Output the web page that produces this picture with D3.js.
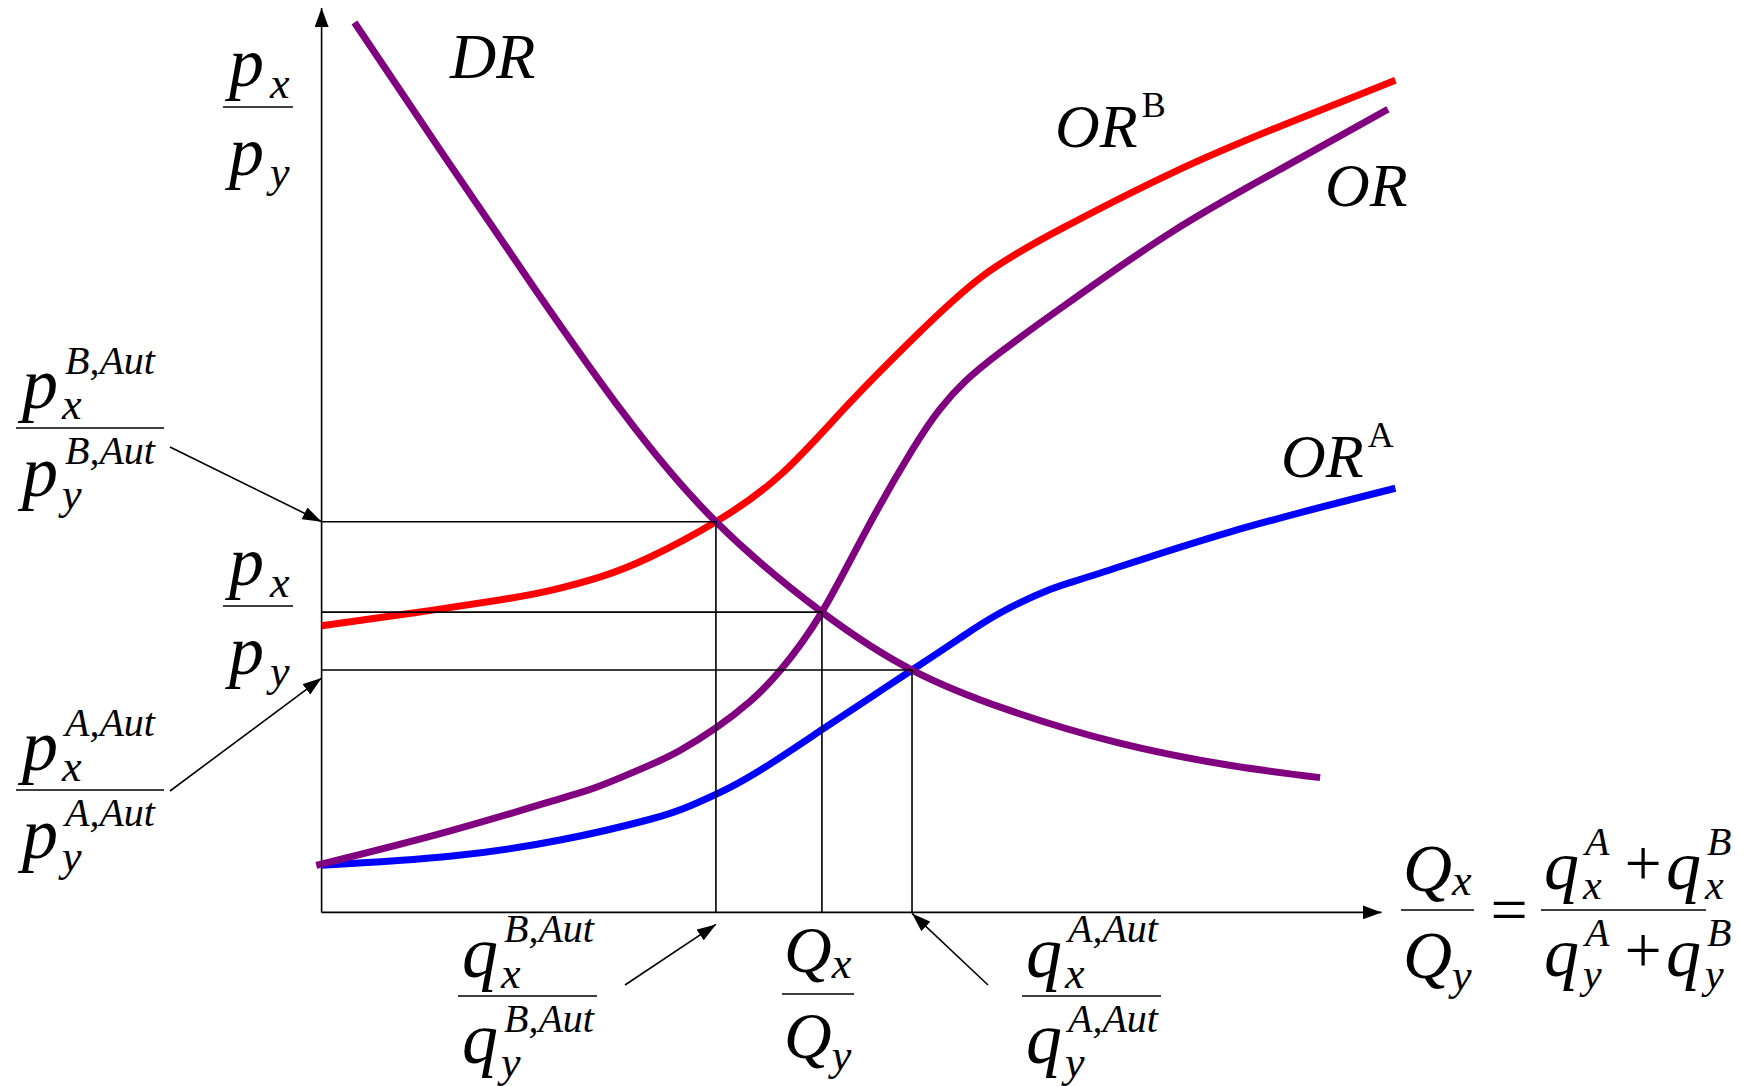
<!DOCTYPE html>
<html>
<head>
<meta charset="utf-8">
<script src="https://cdn.jsdelivr.net/npm/d3@7"></script>
<style>
  html, body { margin: 0; padding: 0; background: #ffffff; }
  svg { display: block; }
  text { font-family: "Liberation Serif", "Times New Roman", serif; fill: #000; }
</style>
</head>
<body>
<svg id="chart" width="1751" height="1086"></svg>
<script>
// ---- Data (abstract units: relative quantity Qx/Qy on x, relative price px/py on y) ----
// World relative demand DR
const drCurve = [
  [0.31, 9.84], [1.17, 8.34], [2.02, 6.88], [2.86, 5.50], [3.72, 4.32],
  [4.72, 3.32], [5.57, 2.68], [6.45, 2.25], [7.50, 1.88], [8.55, 1.63], [9.42, 1.49]
];
// Relative supply of country B (ORB)
const orBCurve = [
  [0.00, 3.17], [0.86, 3.31], [1.71, 3.46], [2.16, 3.56], [2.63, 3.71], [3.10, 3.93],
  [3.72, 4.32], [4.34, 4.85], [4.97, 5.62], [5.61, 6.38], [6.24, 7.04], [6.98, 7.56],
  [8.03, 8.18], [9.08, 8.71], [10.13, 9.20]
];
// World relative supply (OR)
const orCurve = [
  [-0.05, 0.52], [1.18, 0.89], [2.23, 1.25], [2.63, 1.40], [3.08, 1.62], [3.38, 1.79],
  [3.72, 2.04], [4.04, 2.33], [4.33, 2.68], [4.72, 3.32], [5.14, 4.23], [5.57, 5.11],
  [5.83, 5.56], [6.07, 5.87], [6.40, 6.19], [6.78, 6.52], [7.08, 6.77], [8.03, 7.53],
  [9.08, 8.24], [10.06, 8.88]
];
// Relative supply of country A (ORA)
const orACurve = [
  [0.00, 0.52], [1.21, 0.62], [2.25, 0.80], [3.10, 1.03], [3.48, 1.18], [3.85, 1.38],
  [4.23, 1.64], [4.72, 2.02], [5.17, 2.37], [5.57, 2.68], [6.02, 3.03], [6.40, 3.31],
  [6.87, 3.57], [7.34, 3.75], [8.55, 4.20], [10.13, 4.69]
];
// Equilibria: autarky in B, free-trade world, autarky in A  [Qx/Qy, px/py]
const autarkyB = [3.72, 4.32];
const worldEq  = [4.72, 3.32];
const autarkyA = [5.57, 2.68];
const axisMax = 10;

// ---- Setup ----
const svg = d3.select("#chart");
const x = d3.scaleLinear().domain([0, axisMax]).range([321.6, 1381.6]);
const y = d3.scaleLinear().domain([0, axisMax]).range([912.4, 8]);

const defs = svg.append("defs");
function arrowMarker(id, len, wid) {
  defs.append("marker")
    .attr("id", id)
    .attr("viewBox", `0 0 ${len} ${wid}`)
    .attr("refX", len).attr("refY", wid / 2)
    .attr("markerWidth", len).attr("markerHeight", wid)
    .attr("markerUnits", "userSpaceOnUse")
    .attr("orient", "auto")
    .append("path")
    .attr("d", `M0,0L${len},${wid / 2}L0,${wid}Z`)
    .attr("fill", "#000");
}
arrowMarker("axisArrow", 19, 14);
arrowMarker("noteArrow", 19, 13);

// ---- Axes ----
const axes = svg.append("g").attr("stroke", "#000").attr("stroke-width", 1.6);
axes.append("line")
  .attr("x1", x(0)).attr("y1", y(0)).attr("x2", x(0)).attr("y2", y(axisMax))
  .attr("marker-end", "url(#axisArrow)");
axes.append("line")
  .attr("x1", x(0)).attr("y1", y(0)).attr("x2", x(axisMax)).attr("y2", y(0))
  .attr("marker-end", "url(#axisArrow)");

// ---- Curves (natural cubic splines through the read points) ----
const line = d3.line().x(d => x(d[0])).y(d => y(d[1])).curve(d3.curveNatural);
const curves = [
  { data: orACurve, color: "#0000ff" },
  { data: orBCurve, color: "#ff0000" },
  { data: orCurve,  color: "#800080" },
  { data: drCurve,  color: "#800080" }
];
svg.append("g").selectAll("path").data(curves).join("path")
  .attr("d", d => line(d.data))
  .attr("fill", "none")
  .attr("stroke", d => d.color)
  .attr("stroke-width", 7)
  .attr("stroke-linecap", "butt");

// ---- Equilibrium guide lines ----
const guides = svg.append("g").attr("stroke", "#000").attr("stroke-width", 1.6).attr("fill", "none");
[autarkyB, worldEq, autarkyA].forEach(p => {
  guides.append("path")
    .attr("d", `M${x(0)},${y(p[1])}H${x(p[0])}V${y(0)}`);
});

// ---- Annotation arrows ----
const notes = svg.append("g").attr("stroke", "#000").attr("stroke-width", 1.6);
function note(x1, y1, px, py, dx, dy) {
  notes.append("line")
    .attr("x1", x1).attr("y1", y1)
    .attr("x2", x(px) + dx).attr("y2", y(py) + dy)
    .attr("marker-end", "url(#noteArrow)");
}
note(170, 447, 0, autarkyB[1], 0, 0);
note(170, 791, 0, autarkyA[1], 0, 8);
note(625, 985, autarkyB[0], 0, 0, 12);
note(988, 985, autarkyA[0], 0, 0, 1);

// ---- Math labels ----
const labels = svg.append("g");
function term(g, o) {
  const t = g.append("text")
    .attr("x", o.x).attr("y", o.y)
    .attr("font-size", o.size)
    .attr("font-style", "italic")
    .text(o.base);
  const w = t.node().getComputedTextLength();
  if (o.sup) {
    g.append("text")
      .attr("x", o.x + w + (o.supDx || 0)).attr("y", o.y - o.supRise)
      .attr("font-size", o.supSize)
      .attr("font-style", o.supUpright ? "normal" : "italic")
      .text(o.sup);
  }
  if (o.sub) {
    g.append("text")
      .attr("x", o.x + w + (o.subDx || 0)).attr("y", o.y + o.subDrop)
      .attr("font-size", o.subSize)
      .attr("font-style", "italic")
      .text(o.sub);
  }
  return w;
}
function bar(g, x1, x2, yb) {
  g.append("line").attr("x1", x1).attr("x2", x2).attr("y1", yb).attr("y2", yb)
    .attr("stroke", "#000").attr("stroke-width", 1.6);
}

// Curve names
term(labels, { x: 450, y: 78, base: "DR", size: 64 });
term(labels, { x: 1055, y: 147, base: "OR", size: 62, sup: "B", supSize: 36, supRise: 30, supDx: 4, supUpright: true });
term(labels, { x: 1325, y: 206, base: "OR", size: 62 });
term(labels, { x: 1281, y: 477, base: "OR", size: 62, sup: "A", supSize: 36, supRise: 30, supDx: 4, supUpright: true });

// Price ratio px/py (axis title and free-trade price)
function priceRatio(barY) {
  const g = labels.append("g");
  bar(g, 223, 293, barY);
  term(g, { x: 229, y: barY - 21, base: "p", size: 70, sub: "x", subSize: 44, subDrop: 12, subDx: 6 });
  term(g, { x: 229, y: barY + 68, base: "p", size: 70, sub: "y", subSize: 44, subDrop: 12, subDx: 6 });
}
priceRatio(107);
priceRatio(606);

// Autarky price ratios (left)
function autarkyPrice(barY, country) {
  const g = labels.append("g");
  bar(g, 16, 164, barY);
  const s = `${country},Aut`;
  term(g, { x: 22, y: barY - 20, base: "p", size: 72, sup: s, supSize: 40, supRise: 34, supDx: 7, sub: "x", subSize: 44, subDrop: 11, subDx: 4 });
  term(g, { x: 22, y: barY + 68, base: "p", size: 72, sup: s, supSize: 40, supRise: 32, supDx: 7, sub: "y", subSize: 44, subDrop: 13, subDx: 4 });
}
autarkyPrice(428, "B");
autarkyPrice(790, "A");

// Autarky quantity ratios (bottom)
function autarkyQty(x0, country) {
  const g = labels.append("g").attr("transform", `translate(${x0},0)`);
  bar(g, 0, 139, 996);
  const s = `${country},Aut`;
  term(g, { x: 4, y: 977, base: "q", size: 72, sup: s, supSize: 40, supRise: 35, supDx: 6, sub: "x", subSize: 44, subDrop: 11, subDx: 3 });
  term(g, { x: 4, y: 1063, base: "q", size: 72, sup: s, supSize: 40, supRise: 31, supDx: 6, sub: "y", subSize: 44, subDrop: 14, subDx: 3 });
}
autarkyQty(458, "B");
autarkyQty(1022, "A");

// World quantity ratio at free trade (bottom)
{
  const g = labels.append("g").attr("transform", "translate(782,0)");
  bar(g, 0, 72, 994);
  term(g, { x: 2, y: 972, base: "Q", size: 66, sub: "x", subSize: 44, subDrop: 6, subDx: 0 });
  term(g, { x: 2, y: 1058, base: "Q", size: 66, sub: "y", subSize: 44, subDrop: 12, subDx: 0 });
}

// Horizontal axis title
{
  const g = labels.append("g");
  bar(g, 1401, 1474, 910);
  term(g, { x: 1403, y: 891, base: "Q", size: 68, sub: "x", subSize: 44, subDrop: 4, subDx: 0 });
  term(g, { x: 1403, y: 978, base: "Q", size: 68, sub: "y", subSize: 44, subDrop: 12, subDx: 0 });
  g.append("text").attr("x", 1509).attr("y", 932).attr("font-size", 66)
    .attr("text-anchor", "middle").text("=");
  bar(g, 1541, 1706, 910);
  function sumRow(yb, sub, rise, drop) {
    term(g, { x: 1544, y: yb, base: "q", size: 70, sup: "A", supSize: 40, supRise: rise, supDx: 6, sub: sub, subSize: 42, subDrop: drop, subDx: 4 });
    g.append("text").attr("x", 1643).attr("y", yb - 4).attr("font-size", 66)
      .attr("text-anchor", "middle").text("+");
    term(g, { x: 1666, y: yb, base: "q", size: 70, sup: "B", supSize: 40, supRise: rise, supDx: 6, sub: sub, subSize: 42, subDrop: drop, subDx: 4 });
  }
  sumRow(889, "x", 34, 10);
  sumRow(976, "y", 30, 12);
}
</script>
</body>
</html>
